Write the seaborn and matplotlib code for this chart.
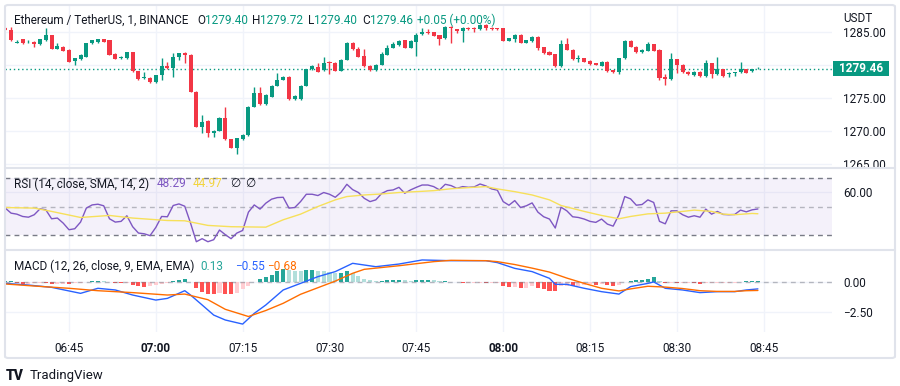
import numpy as np
import pandas as pd
import matplotlib
matplotlib.use("Agg")
import matplotlib.pyplot as plt
from matplotlib.patches import Rectangle, FancyBboxPatch
from matplotlib.lines import Line2D
from matplotlib.ticker import FuncFormatter
import seaborn as sns

# ---- 1 minute ETH/USDT candles, first one at 06:34 ----
start_time = "06:34"
opens = [1285.56, 1285.30, 1283.38, 1283.89, 1283.44, 1283.54, 1283.18, 1283.79, 1284.55, 1282.42,
         1282.78, 1282.27, 1280.66, 1280.86, 1281.26, 1283.28, 1283.49, 1283.89, 1283.79, 1281.67,
         1281.01, 1281.01, 1281.92, 1279.09, 1277.98, 1278.08, 1277.37, 1278.49, 1279.90, 1279.50,
         1281.26, 1281.87, 1281.52, 1275.96, 1270.56, 1271.57, 1269.65, 1270.05, 1271.92, 1268.74,
         1267.47, 1268.74, 1269.40, 1273.69, 1275.71, 1274.09, 1275.20, 1276.87, 1277.73, 1278.23,
         1274.85, 1274.85, 1276.87, 1279.39, 1279.75, 1279.24, 1280.51, 1280.35, 1279.14, 1280.76,
         1283.38, 1282.37, 1281.36, 1279.85, 1279.24, 1280.00, 1281.52, 1282.63, 1283.03, 1283.79,
         1282.63, 1283.54, 1284.70, 1285.05, 1284.95, 1284.55, 1284.04, 1285.81, 1285.41, 1285.20,
         1285.66, 1285.56, 1285.41, 1286.06, 1285.66, 1285.56, 1285.56, 1283.69, 1283.89, 1284.55,
         1283.38, 1283.64, 1284.29, 1282.68, 1282.02, 1281.62, 1279.85, 1283.18, 1282.27, 1280.86,
         1281.01, 1280.60, 1280.25, 1279.90, 1280.51, 1279.24, 1278.99, 1281.01, 1283.69, 1282.78,
         1281.92, 1282.17, 1283.13, 1282.27, 1278.13, 1277.88, 1280.86, 1280.00, 1278.99, 1278.49,
         1278.99, 1278.33, 1280.25, 1278.64, 1279.39, 1278.64, 1278.74, 1278.89, 1279.39, 1279.09,
         1279.40]
highs = [1285.70, 1285.81, 1283.79, 1283.95, 1283.79, 1283.60, 1283.95, 1285.56, 1284.60, 1283.28,
         1282.85, 1282.35, 1281.10, 1281.60, 1283.35, 1283.85, 1284.00, 1284.00, 1283.85, 1281.75,
         1281.35, 1282.00, 1282.00, 1279.15, 1278.99, 1278.15, 1278.55, 1281.01, 1280.51, 1281.87,
         1281.85, 1281.95, 1281.60, 1276.05, 1272.43, 1271.65, 1270.15, 1272.10, 1273.69, 1268.80,
         1268.95, 1269.50, 1273.75, 1276.62, 1276.62, 1275.55, 1276.95, 1278.84, 1278.30, 1278.30,
         1275.40, 1276.95, 1279.45, 1279.95, 1280.25, 1281.26, 1280.60, 1280.45, 1280.85, 1283.45,
         1283.45, 1282.78, 1282.37, 1279.95, 1280.10, 1282.02, 1283.03, 1283.54, 1283.75, 1283.85,
         1283.75, 1284.90, 1285.56, 1285.41, 1285.00, 1284.60, 1285.90, 1285.90, 1285.50, 1285.75,
         1285.75, 1285.81, 1286.15, 1286.15, 1285.75, 1285.65, 1285.65, 1284.10, 1284.65, 1284.65,
         1283.85, 1284.35, 1284.35, 1282.75, 1282.10, 1281.70, 1283.79, 1284.04, 1282.35, 1281.52,
         1281.10, 1280.70, 1280.35, 1280.60, 1280.60, 1279.30, 1281.10, 1283.75, 1283.75, 1282.85,
         1282.35, 1283.54, 1283.20, 1282.35, 1278.64, 1281.77, 1280.95, 1280.10, 1279.05, 1279.05,
         1279.05, 1280.76, 1280.35, 1281.16, 1279.45, 1278.90, 1279.00, 1280.51, 1279.45, 1279.45,
         1279.72]
lows = [1285.25, 1283.70, 1283.28, 1283.20, 1283.28, 1282.78, 1283.10, 1283.70, 1282.35, 1282.35,
        1282.10, 1280.40, 1280.00, 1280.80, 1281.20, 1283.20, 1283.40, 1283.45, 1281.45, 1280.85,
        1280.95, 1280.95, 1279.00, 1277.80, 1277.90, 1277.30, 1277.30, 1277.73, 1279.45, 1278.13,
        1280.76, 1280.25, 1275.90, 1270.60, 1269.65, 1269.14, 1269.14, 1269.95, 1268.70, 1267.40,
        1266.52, 1268.65, 1269.30, 1273.60, 1274.00, 1274.00, 1275.10, 1276.80, 1277.65, 1274.75,
        1274.75, 1274.75, 1276.80, 1279.30, 1278.90, 1279.15, 1278.64, 1279.05, 1279.05, 1280.70,
        1282.30, 1281.20, 1279.75, 1279.15, 1279.15, 1279.95, 1281.45, 1282.55, 1282.95, 1282.55,
        1282.55, 1281.36, 1284.60, 1284.70, 1284.40, 1283.03, 1283.95, 1283.28, 1284.80, 1283.54,
        1285.35, 1285.05, 1285.35, 1285.30, 1285.35, 1285.35, 1283.60, 1283.60, 1283.54, 1283.30,
        1283.30, 1283.55, 1282.27, 1281.70, 1281.45, 1279.75, 1279.75, 1282.20, 1280.80, 1280.51,
        1280.45, 1280.00, 1279.95, 1279.85, 1279.00, 1278.74, 1278.64, 1280.95, 1282.70, 1281.85,
        1281.85, 1282.10, 1282.10, 1277.73, 1276.97, 1277.80, 1278.74, 1278.80, 1278.55, 1278.40,
        1278.25, 1278.25, 1277.98, 1278.55, 1278.25, 1278.23, 1278.33, 1278.80, 1278.75, 1279.00,
        1279.40]
closes = [1285.30, 1283.79, 1283.54, 1283.28, 1283.54, 1283.18, 1283.89, 1284.55, 1282.42, 1282.88,
          1282.17, 1280.51, 1281.01, 1281.52, 1283.28, 1283.79, 1283.89, 1283.54, 1281.52, 1280.91,
          1281.26, 1281.92, 1279.09, 1277.88, 1278.23, 1277.37, 1278.49, 1279.85, 1279.50, 1281.26,
          1281.77, 1281.52, 1275.96, 1270.66, 1271.42, 1269.65, 1270.05, 1272.02, 1268.79, 1267.47,
          1268.89, 1269.40, 1273.69, 1275.71, 1274.09, 1275.46, 1276.87, 1277.73, 1278.23, 1274.85,
          1275.30, 1276.87, 1279.39, 1279.85, 1278.99, 1280.35, 1280.25, 1279.14, 1280.76, 1283.38,
          1282.37, 1281.26, 1279.85, 1279.24, 1280.00, 1281.67, 1282.63, 1283.13, 1283.69, 1282.63,
          1283.69, 1284.55, 1285.05, 1284.80, 1284.45, 1283.94, 1285.81, 1285.56, 1285.20, 1285.66,
          1285.41, 1285.41, 1286.06, 1285.56, 1285.41, 1285.41, 1283.69, 1284.04, 1284.55, 1283.38,
          1283.79, 1284.29, 1282.53, 1281.77, 1281.52, 1279.85, 1283.18, 1282.27, 1280.86, 1281.01,
          1280.51, 1280.10, 1280.00, 1280.51, 1279.09, 1278.99, 1281.01, 1283.69, 1282.78, 1281.92,
          1282.27, 1283.13, 1282.17, 1277.98, 1277.88, 1280.86, 1280.00, 1278.89, 1278.64, 1278.99,
          1278.33, 1280.25, 1278.64, 1279.39, 1278.33, 1278.84, 1278.94, 1279.39, 1278.84, 1279.41,
          1279.46]

# RSI(14) per candle and its SMA (sampled where read)
rsi = [48.9, 45.4, 44.7, 43.1, 42.6, 44.3, 48.4, 47.7, 41.5, 42.0,
       38.5, 33.9, 34.6, 39.2, 48.9, 51.1, 51.6, 50.5, 41.5, 39.2,
       39.7, 43.6, 36.0, 31.6, 31.1, 29.8, 35.5, 43.1, 42.9, 50.7,
       51.8, 50.2, 38.5, 25.6, 27.7, 25.6, 27.0, 33.7, 30.5, 27.7,
       31.6, 33.4, 46.1, 51.1, 48.2, 52.3, 55.1, 56.2, 56.4, 48.9,
       49.3, 53.4, 58.5, 58.5, 57.6, 59.7, 58.5, 56.4, 59.9, 65.4,
       61.7, 59.7, 55.7, 53.4, 54.6, 59.0, 61.0, 61.5, 63.3, 59.2,
       61.5, 63.3, 64.9, 64.9, 63.8, 61.5, 65.4, 64.5, 62.6, 63.8,
       63.3, 63.6, 65.6, 64.3, 62.2, 61.3, 53.4, 50.9, 54.1, 49.3,
       50.5, 52.5, 46.1, 42.9, 41.3, 35.1, 49.5, 47.0, 42.9, 42.4,
       41.3, 39.7, 39.0, 41.3, 37.8, 36.4, 44.3, 56.9, 55.3, 50.9,
       51.4, 54.6, 52.8, 39.7, 38.0, 47.0, 47.0, 44.3, 42.6, 43.6,
       42.6, 48.2, 44.7, 46.6, 44.5, 44.3, 44.5, 47.5, 46.3, 47.7,
       48.29]
rsi_sma_min = [0, 5, 8, 13, 18, 22, 28, 31, 35, 39, 45, 48, 51, 54, 57, 59, 62, 65, 68, 71, 74,
               77, 80, 83, 85, 88, 91, 94, 96, 100, 103, 106, 108, 111, 114, 117, 119, 122, 124,
               126, 129, 130]
rsi_sma = [49.3, 48.9, 46.6, 42.4, 43.8, 42.0, 40.3, 40.1, 36.9, 36.0, 35.7, 40.8, 44.7, 50.0,
           54.6, 56.9, 58.0, 58.7, 59.7, 60.3, 61.0, 62.3, 63.1, 63.8, 62.2, 60.3, 58.0, 54.6,
           50.7, 46.6, 43.8, 41.5, 43.1, 44.9, 45.4, 46.6, 47.5, 46.6, 44.7, 44.3, 45.2, 44.97]

# MACD(12, 26, 9)
macd_min = [0, 4, 8, 13, 16, 19, 22, 26, 28, 31, 32, 34, 36, 38, 41, 43, 45, 48, 51, 54, 57, 60,
            62, 64, 68, 72, 77, 83, 85, 88, 91, 94, 95, 97, 100, 103, 106, 108, 111, 112, 114,
            117, 120, 123, 126, 128, 130]
macd_line = [-0.09, -0.23, -0.42, -0.92, -0.50, -0.64, -1.06, -1.48, -1.34, -0.70, -1.06, -1.89,
             -2.73, -3.14, -3.48, -2.59, -1.89, -0.64, -0.09, 0.47, 0.89, 1.58, 1.44, 1.30, 1.52,
             1.86, 1.80, 1.80, 1.64, 1.16, 0.89, 0.33, -0.17, -0.17, -0.50, -0.78, -0.98, -0.36,
             -0.09, 0.03, -0.50, -0.64, -0.86, -0.78, -0.78, -0.64, -0.55]
signal_min = [0, 5, 11, 16, 22, 28, 31, 35, 38, 42, 45, 48, 51, 54, 57, 60, 62, 68, 74, 77, 83,
              85, 88, 91, 94, 97, 100, 103, 106, 108, 111, 114, 117, 120, 123, 126, 128, 130]
signal_line = [-0.14, -0.31, -0.50, -0.70, -0.86, -1.06, -0.98, -1.45, -2.25, -2.85, -2.35,
               -1.75, -1.00, -0.45, 0.10, 0.75, 1.08, 1.38, 1.72, 1.83, 1.80, 1.72, 1.48, 1.18,
               0.85, 0.35, -0.09, -0.50, -0.72, -0.55, -0.33, -0.40, -0.52, -0.70, -0.76, -0.76,
               -0.70, -0.68]
hist = [0.08, 0.08, -0.05, -0.12, -0.12, -0.08, -0.05, -0.10, -0.15, -0.15,
        -0.12, -0.15, -0.10, -0.05, 0.02, 0.08, 0.10, 0.08, 0.02, -0.05,
        -0.08, -0.05, -0.20, -0.35, -0.40, -0.35, -0.25, -0.15, -0.05, 0.10,
        0.20, 0.25, 0.05, -0.50, -0.80, -0.95, -1.00, -0.90, -0.95, -1.00,
        -0.90, -0.60, -0.30, 0.05, 0.25, 0.40, 0.60, 0.90, 1.10, 1.05,
        0.95, 0.90, 1.00, 1.05, 0.95, 0.90, 0.85, 0.75, 0.80, 0.90,
        0.75, 0.50, 0.30, 0.15, 0.08, 0.10, 0.15, 0.20, 0.20, 0.15,
        0.10, 0.15, 0.20, 0.20, 0.15, 0.08, 0.10, 0.05, 0.00, -0.05,
        -0.05, -0.05, -0.05, -0.10, -0.10, -0.10, -0.30, -0.40, -0.40, -0.45,
        -0.45, -0.35, -0.50, -0.60, -0.70, -0.75, -0.35, -0.30, -0.35, -0.30,
        -0.20, -0.15, -0.20, -0.15, -0.20, -0.35, -0.20, 0.00, 0.10, 0.15,
        0.20, 0.30, 0.40, 0.10, -0.05, -0.05, -0.10, -0.08, -0.05, -0.10,
        -0.12, -0.05, -0.05, -0.05, -0.05, -0.03, -0.02, 0.05, 0.08, 0.10,
        0.13]

time_labels = ["06:45", "07:00", "07:15", "07:30", "07:45", "08:00", "08:15", "08:30", "08:45"]
price_ticks = [1265, 1270, 1275, 1280, 1285]

GREEN = "#089981"
RED = "#f23645"
GRID = "#f0f3fa"
BORDER = "#e0e3eb"
TEXT = "#131722"
GREY = "#787b86"

sns.set_style("white")
plt.rcParams["font.family"] = ["Roboto", "DejaVu Sans"]

W, H = 900, 386
fig = plt.figure(figsize=(9, 3.86), dpi=100)


def fx(px):
    return px / W


def fy(py):
    return 1 - py / H


L, R = 5, 832
ax_main = fig.add_axes([fx(L), fy(168), (R - L) / W, 163 / H])
ax_rsi = fig.add_axes([fx(L), fy(250), (R - L) / W, 82 / H], sharex=ax_main)
ax_macd = fig.add_axes([fx(L), fy(332), (R - L) / W, 82 / H], sharex=ax_main)

t0 = int(start_time[:2]) * 60 + int(start_time[3:])
tick_pos = [int(s[:2]) * 60 + int(s[3:]) - t0 for s in time_labels]

# candles
df = pd.DataFrame({"open": opens, "high": highs, "low": lows, "close": closes})
df["t"] = np.arange(len(df))
ccol = np.where(df["close"] >= df["open"], GREEN, RED)
ax_main.vlines(df["t"], df["low"], df["high"], colors=ccol, lw=1, zorder=3)
body = (df["close"] - df["open"]).abs().clip(lower=0.06)
ax_main.bar(df["t"], body, bottom=df[["open", "close"]].min(axis=1), width=0.7,
            color=ccol, linewidth=0, zorder=4)
ax_main.axhline(closes[-1], color=GREEN, ls=(0, (1, 2)), lw=1, zorder=2)
ax_main.set_ylim(1264.39, 1289.09)
ax_main.set_yticks(price_ticks)
ax_main.yaxis.set_major_formatter(FuncFormatter(lambda v, p: "" if v == 1280 else f"{v:.2f}"))

# RSI
rsi_df = pd.DataFrame({"t": np.arange(len(rsi)), "rsi": rsi})
ax_rsi.axhspan(30, 70, color="#7e57c2", alpha=0.08, lw=0)
for lvl, a in [(70, 1.0), (50, 0.5), (30, 1.0)]:
    ax_rsi.axhline(lvl, color=GREY, lw=1, ls=(0, (3.5, 3)), alpha=a)
sns.lineplot(data=rsi_df, x="t", y="rsi", ax=ax_rsi, color="#7e57c2", lw=1)
sns.lineplot(x=rsi_sma_min, y=rsi_sma, ax=ax_rsi, color="#f7e05a", lw=1)
ax_rsi.set_ylim(19.86, 76.69)
ax_rsi.set_yticks([60])

# MACD
h = np.array(hist)
prev = np.r_[h[0], h[:-1]]
hcol = np.where(h >= 0, np.where(h >= prev, "#26a69a", "#b2dfdb"),
                np.where(h < prev, "#ff5252", "#ffcdd2"))
ax_macd.bar(np.arange(len(h)), h, width=0.7, color=hcol, linewidth=0)
ax_macd.axhline(0, color=GREY, lw=1, ls=(0, (3.5, 3)), alpha=0.5)
sns.lineplot(x=macd_min, y=macd_line, ax=ax_macd, color="#2962ff", lw=1)
sns.lineplot(x=signal_min, y=signal_line, ax=ax_macd, color="#ff6d00", lw=1)
ax_macd.set_ylim(-4.14, 2.69)
ax_macd.set_yticks([0, -2.5])

fmt2 = FuncFormatter(lambda v, p: f"{v:.2f}".replace("-", "\u2212"))
ax_rsi.yaxis.set_major_formatter(fmt2)
ax_macd.yaxis.set_major_formatter(fmt2)

for ax in (ax_main, ax_rsi, ax_macd):
    ax.set_xlim(-0.05, 142.8)
    ax.set_xlabel("")
    ax.set_ylabel("")
    ax.set_axisbelow(True)
    ax.grid(True, color=GRID, lw=1)
    ax.yaxis.tick_right()
    ax.tick_params(length=0, labelsize=8.5, labelcolor=TEXT)
    ax.tick_params(axis="y", pad=8)
    for s in ax.spines.values():
        s.set_visible(False)
for ax in (ax_main, ax_rsi):
    ax.tick_params(axis="x", labelbottom=False)
ax_macd.set_xticks(tick_pos, labels=time_labels)
ax_macd.tick_params(axis="x", pad=7)
for lab in ax_macd.get_xticklabels():
    if lab.get_text().endswith(":00"):
        lab.set_fontweight("bold")

# frame and pane separators
fig.patches.append(FancyBboxPatch((fx(5), fy(358)), 890 / W, 353 / H, boxstyle="round,pad=0,rounding_size=0.004",
                                  transform=fig.transFigure, fc="none", ec=BORDER, lw=1.5))
for yy in (168, 250):
    fig.lines.append(Line2D([fx(5), fx(895)], [fy(yy), fy(yy)], transform=fig.transFigure,
                            color=BORDER, lw=1.5))

# last price tag
fig.canvas.draw()
tag_y = ax_main.transData.transform((0, closes[-1]))[1]
fig.patches.append(Rectangle((fx(833), (tag_y - 7.5) / H), 56 / W, 15 / H,
                             transform=fig.transFigure, fc=GREEN, ec="none"))
fig.text(fx(861), tag_y / H, f"{closes[-1]:.2f}", color="white", fontsize=8.5,
         fontweight="bold", ha="center", va="center")
fig.text(fx(843), fy(18), "USDT", color=TEXT, fontsize=8.5, va="center")

renderer = fig.canvas.get_renderer()


def text_run(x, y, parts, size=8.5):
    for txt, col in parts:
        t = fig.text(fx(x), fy(y), txt, color=col, fontsize=size, va="center", ha="left")
        x += t.get_window_extent(renderer).width


def num(v):
    return f"{v:.2f}".replace("-", "\u2212")


chg = closes[-1] - closes[-2]
text_run(14, 20, [("Ethereum / TetherUS, 1, BINANCE", TEXT)])
text_run(197, 20, [("O", TEXT), (num(opens[-1]), GREEN)])
text_run(252, 20, [("H", TEXT), (num(highs[-1]), GREEN)])
text_run(308, 20, [("L", TEXT), (num(lows[-1]), GREEN)])
text_run(362, 20, [("C", TEXT), (num(closes[-1]), GREEN)])
text_run(417, 20, [(f"{chg:+.2f} ({chg / closes[-2] * 100:+.2f}%)", GREEN)])

text_run(14, 184, [("RSI (14, close, SMA, 14, 2)", TEXT)])
text_run(157, 184, [(num(rsi[-1]), "#7e57c2")])
text_run(193, 184, [(num(rsi_sma[-1]), "#f2d43d")])
text_run(230, 184, [("\u2205", TEXT)])
text_run(245, 184, [("\u2205", TEXT)])

text_run(14, 266, [("MACD (12, 26, close, 9, EMA, EMA)", TEXT)])
text_run(200, 266, [(num(hist[-1]), "#26a69a")])
text_run(235, 266, [(num(macd_line[-1]), "#2962ff")])
text_run(267, 266, [(num(signal_line[-1]), "#ff6d00")])

fig.text(fx(6), fy(376), "TV", color=TEXT, fontsize=10, fontweight="heavy", va="center")
fig.text(fx(30), fy(376), "TradingView", color=TEXT, fontsize=9.5, va="center")

fig.savefig("out.png", dpi=100)
